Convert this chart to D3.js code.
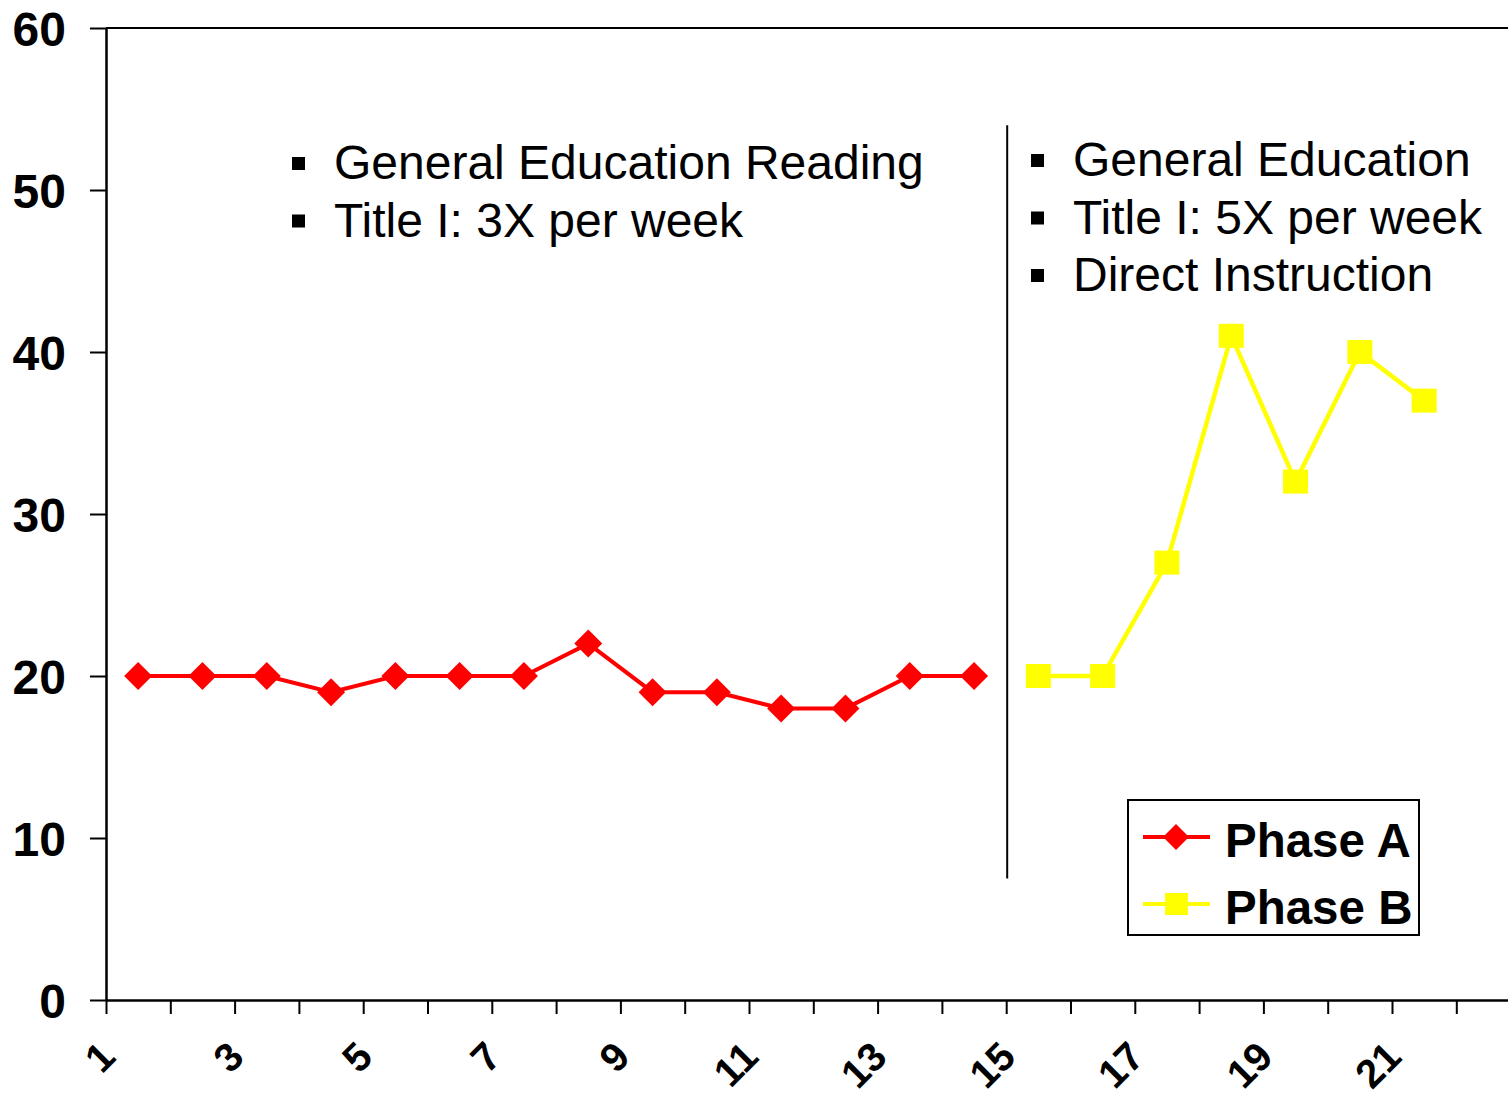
<!DOCTYPE html>
<html>
<head>
<script src="https://d3js.org/d3.v7.min.js"></script>
<style>
  body { margin: 0; background: #fff; }
  text { font-family: "Liberation Sans", Arial, sans-serif; }
</style>
</head>
<body>
<script>
    var w = 1508, h = 1096;

    // data
    var phaseA = [20, 20, 20, 19, 20, 20, 20, 22, 19, 19, 18, 18, 20, 20];   // sessions 1-14
    var phaseB = [20, 20, 27, 41, 32, 40, 37];                              // sessions 15-21
    var nCats = 22;
    var yTicks = [0, 10, 20, 30, 40, 50, 60];
    var xLabels = ["1", "3", "5", "7", "9", "11", "13", "15", "17", "19", "21"];
    var notesA = ["General Education Reading", "Title I: 3X per week"];
    var notesB = ["General Education", "Title I: 5X per week", "Direct Instruction"];
    var seriesNames = ["Phase A", "Phase B"];
    var phaseChange = 14;   // boundary between the phases
    var phaseLineRange = [7.5, 54];

    var svg = d3.select('body').append('svg')
        .attr('width', w).attr('height', h);

    var x = d3.scaleLinear().domain([0, nCats]).range([106, 106 + nCats * 64.3]);
    var y = d3.scaleLinear().domain([0, 60]).range([1000, 28]);

    function cx(i) { return x(i + 0.5); }

    // top border
    svg.append('line')
        .attr('x1', x(0)).attr('x2', x(nCats))
        .attr('y1', y(60)).attr('y2', y(60))
        .attr('stroke', '#000').attr('stroke-width', 2);

    // y axis
    var yAxis = svg.append('g')
        .attr('transform', 'translate(' + x(0) + ',0)')
        .call(d3.axisLeft(y).tickValues(yTicks).tickSize(16).tickSizeOuter(0).tickPadding(24));
    yAxis.select('.domain').attr('stroke', '#000').attr('stroke-width', 2.5);
    yAxis.selectAll('.tick line').attr('stroke', '#000').attr('stroke-width', 2);
    yAxis.selectAll('text')
        .attr('font-size', 48).attr('font-weight', 'bold').attr('fill', '#000')
        .attr('font-family', '"Liberation Sans", Arial, sans-serif')
        .attr('dy', '0.36em');

    // x axis
    var xAxis = svg.append('g')
        .attr('transform', 'translate(0,' + y(0) + ')')
        .call(d3.axisBottom(x).tickValues(d3.range(0, nCats)).tickSize(14).tickSizeOuter(0)
            .tickFormat(function (d) { return d % 2 === 0 ? xLabels[d / 2] : ''; }));
    xAxis.select('.domain').attr('stroke', '#000').attr('stroke-width', 2.5);
    xAxis.selectAll('.tick line').attr('stroke', '#000').attr('stroke-width', 2);
    xAxis.selectAll('text')
        .attr('font-size', 40).attr('font-weight', 'bold').attr('fill', '#000')
        .attr('font-family', '"Liberation Sans", Arial, sans-serif')
        .attr('text-anchor', 'end')
        .attr('y', 0).attr('dy', 0)
        .attr('transform', 'translate(11,59) rotate(-45)');

    // phase change line
    svg.append('line')
        .attr('x1', x(phaseChange) + 1).attr('x2', x(phaseChange) + 1)
        .attr('y1', y(phaseLineRange[1])).attr('y2', y(phaseLineRange[0]))
        .attr('stroke', '#000').attr('stroke-width', 2);

    var line = d3.line()
        .x(function (d) { return cx(d.i); })
        .y(function (d) { return y(d.v); });

    var dataA = phaseA.map(function (v, i) { return { i: i, v: v }; });
    var dataB = phaseB.map(function (v, i) { return { i: i + phaseA.length, v: v }; });

    svg.append('path').attr('d', line(dataA))
        .attr('fill', 'none').attr('stroke', '#ff0000').attr('stroke-width', 4);
    svg.append('path').attr('d', line(dataB))
        .attr('fill', 'none').attr('stroke', '#ffff00').attr('stroke-width', 4.5);

    var diamond = 'M0,-14L14,0L0,14L-14,0Z';
    svg.selectAll('.ptA').data(dataA).enter().append('path')
        .attr('d', diamond)
        .attr('transform', function (d) { return 'translate(' + cx(d.i) + ',' + y(d.v) + ')'; })
        .attr('fill', '#ff0000');
    svg.selectAll('.ptB').data(dataB).enter().append('rect')
        .attr('x', function (d) { return cx(d.i) - 12.5; })
        .attr('y', function (d) { return y(d.v) - 12; })
        .attr('width', 25).attr('height', 24)
        .attr('fill', '#ffff00');

    // bullet notes
    function notes(list, bx, tx, y0) {
        list.forEach(function (t, k) {
            var by = y0 + k * 57.5;
            svg.append('rect').attr('x', bx).attr('y', by - 22).attr('width', 13).attr('height', 13).attr('fill', '#000');
            svg.append('text').attr('x', tx).attr('y', by)
                .attr('font-size', 48).attr('fill', '#000').text(t);
        });
    }
    notes(notesA, 292, 334, 179);
    notes(notesB, 1031, 1073, 176);

    // legend
    var lg = svg.append('g');
    lg.append('rect').attr('x', 1128).attr('y', 800).attr('width', 291).attr('height', 135)
        .attr('fill', '#fff').attr('stroke', '#000').attr('stroke-width', 2);
    var colors = ['#ff0000', '#ffff00'];
    seriesNames.forEach(function (s, k) {
        var ly = 837 + k * 67;
        lg.append('line').attr('x1', 1143).attr('x2', 1210).attr('y1', ly).attr('y2', ly)
            .attr('stroke', colors[k]).attr('stroke-width', 4);
        if (k === 0) {
            lg.append('path').attr('d', 'M0,-13L13,0L0,13L-13,0Z')
                .attr('transform', 'translate(1176,' + ly + ')').attr('fill', colors[k]);
        } else {
            lg.append('rect').attr('x', 1165).attr('y', ly - 11).attr('width', 23).attr('height', 22)
                .attr('fill', colors[k]);
        }
        lg.append('text').attr('x', 1225).attr('y', ly + 20)
            .attr('font-size', 47.5).attr('font-weight', 'bold').attr('fill', '#000').text(s);
    });
</script>
</body>
</html>
